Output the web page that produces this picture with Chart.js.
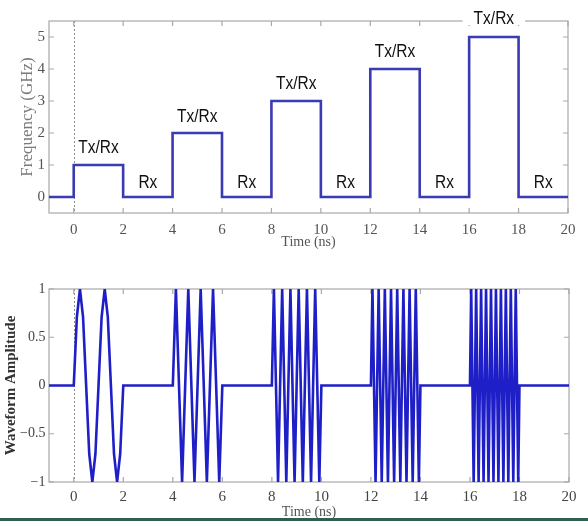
<!DOCTYPE html>
<html><head><meta charset="utf-8">
<script src="https://cdn.jsdelivr.net/npm/chart.js@4.4.1/dist/chart.umd.min.js"></script>
<style>
html,body{margin:0;padding:0;background:#fff;}
#wrap{position:relative;width:588px;height:521px;overflow:hidden;background:#fff;}
#c1{position:absolute;left:0;top:0;}
#c2{position:absolute;left:0;top:260px;}
#strip{position:absolute;left:0;top:518px;width:588px;height:3px;background:#2f5f50;}
</style></head><body>
<div id="wrap"><canvas id="c1" width="588" height="260"></canvas><canvas id="c2" width="588" height="261"></canvas><div id="strip"></div></div>
<script>
// ---- data ----
const timeTicks = [0, 2, 4, 6, 8, 10, 12, 14, 16, 18, 20];
const timeTickLabels = ['0', '2', '4', '6', '8', '10', '12', '14', '16', '18', '20'];
const freqTicks = [0, 1, 2, 3, 4, 5];
const freqTickLabels = ['0', '1', '2', '3', '4', '5'];
const ampTicks = [-1, -0.5, 0, 0.5, 1];
const ampTickLabels = ['\u22121', '\u22120.5', '0', '0.5', '1'];

const freqTimes  = [-1, 0, 0, 2, 2, 4, 4, 6, 6, 8, 8, 10, 10, 12, 12, 14, 14, 16, 16, 18, 18, 20];
const freqValues = [ 0, 0, 1, 1, 0, 0, 2, 2, 0, 0, 3, 3,  0,  0,  4,  4,  0,  0,  5,  5,  0,  0];

const modeLabels      = ['Tx/Rx', 'Rx', 'Tx/Rx', 'Rx', 'Tx/Rx', 'Rx', 'Tx/Rx', 'Rx', 'Tx/Rx', 'Rx'];
const modeLabelTimes  = [1, 3, 5, 7, 9, 11, 13, 15, 17, 19];
const modeLabelLevels = [1.52, 0.45, 2.51, 0.45, 3.53, 0.45, 4.54, 0.45, 5.57, 0.45];

const waveTimes = [-1, 0, 0.125, 0.25, 0.375, 0.5, 0.625, 0.75, 0.875, 1, 1.125, 1.25, 1.375, 1.5, 1.625, 1.75, 1.875, 2,
  4, 4.125, 4.375, 4.625, 4.875, 5.125, 5.375, 5.625, 5.875, 6,
  8, 8.083, 8.25, 8.417, 8.583, 8.75, 8.917, 9.083, 9.25, 9.417, 9.583, 9.75, 9.917, 10,
  12, 12.0625, 12.1875, 12.3125, 12.4375, 12.5625, 12.6875, 12.8125, 12.9375, 13.0625, 13.1875, 13.3125, 13.4375, 13.5625, 13.6875, 13.8125, 13.9375, 14,
  16, 16.05, 16.15, 16.25, 16.35, 16.45, 16.55, 16.65, 16.75, 16.85, 16.95, 17.05, 17.15, 17.25, 17.35, 17.45, 17.55, 17.65, 17.75, 17.85, 17.95, 18, 20];
const waveValues = [0, 0, 0.71, 1, 0.71, 0, -0.71, -1, -0.71, 0, 0.71, 1, 0.71, 0, -0.71, -1, -0.71, 0,
  0, 1, -1, 1, -1, 1, -1, 1, -1, 0,
  0, 1, -1, 1, -1, 1, -1, 1, -1, 1, -1, 1, -1, 0,
  0, 1, -1, 1, -1, 1, -1, 1, -1, 1, -1, 1, -1, 1, -1, 1, -1, 0,
  0, 1, -1, 1, -1, 1, -1, 1, -1, 1, -1, 1, -1, 1, -1, 1, -1, 1, -1, 1, -1, 0, 0];

// ---- helpers ----
const SERIF = '"Liberation Serif", "Times New Roman", serif';
const SANS = '"Liberation Sans", Arial, sans-serif';

const matlabAxes = {
  id: 'matlabAxes',
  beforeDatasetsDraw(chart) {
    const {ctx, chartArea: a, scales: {x, y}} = chart;
    const L = 5;
    ctx.save();
    const x0 = Math.round(x.getPixelForValue(0)) + 0.5;
    ctx.strokeStyle = '#8c8c8c'; ctx.lineWidth = 1; ctx.setLineDash([2, 2]);
    ctx.beginPath(); ctx.moveTo(x0, a.top); ctx.lineTo(x0, a.bottom); ctx.stroke();
    ctx.setLineDash([]);
    ctx.strokeStyle = '#a8a8a8'; ctx.lineWidth = 1.2;
    ctx.strokeRect(a.left, a.top, a.right - a.left, a.bottom - a.top);
    ctx.beginPath();
    x.ticks.forEach(t => {
      const px = x.getPixelForValue(t.value);
      ctx.moveTo(px, a.bottom); ctx.lineTo(px, a.bottom - L);
      ctx.moveTo(px, a.top); ctx.lineTo(px, a.top + L);
    });
    y.ticks.forEach(t => {
      const py = y.getPixelForValue(t.value);
      ctx.moveTo(a.left, py); ctx.lineTo(a.left + L, py);
      ctx.moveTo(a.right, py); ctx.lineTo(a.right - L, py);
    });
    ctx.stroke();
    ctx.restore();
  }
};

const modeLabelPlugin = {
  id: 'modeLabels',
  afterDatasetsDraw(chart) {
    const {ctx, chartArea: a, scales: {x, y}} = chart;
    ctx.save();
    ctx.font = '15.5px ' + SANS;
    ctx.textAlign = 'center';
    ctx.textBaseline = 'middle';
    modeLabels.forEach((txt, i) => {
      const px = x.getPixelForValue(modeLabelTimes[i]);
      const py = y.getPixelForValue(modeLabelLevels[i]);
      if (py < a.top + 6) {
        const w = ctx.measureText(txt).width;
        ctx.fillStyle = '#fff';
        ctx.fillRect(px - w / 2 - 11, a.top - 4, w + 22, 8);
      }
      ctx.fillStyle = '#111';
      ctx.save();
      ctx.translate(px, py);
      ctx.scale(1, 1.18);
      ctx.fillText(txt, 0, 0);
      ctx.restore();
    });
    ctx.restore();
  }
};

function xScale(cfg) {
  return {
    type: 'linear', min: -1, max: 20,
    grid: {display: false, drawTicks: false}, border: {display: false},
    afterBuildTicks: s => { s.ticks = timeTicks.map(v => ({value: v})); },
    afterFit: s => { s.height = cfg.height; },
    ticks: {padding: cfg.tickPad, autoSkip: false, maxRotation: 0, color: cfg.tickColor,
      font: {family: SERIF, size: 15},
      callback: v => timeTickLabels[timeTicks.indexOf(v)]},
    title: {display: true, text: 'Time (ns)', color: '#555',
      font: {family: SERIF, size: 14, lineHeight: 1}, padding: {top: 0, bottom: cfg.titlePad}}
  };
}

function yScale(cfg) {
  return {
    type: 'linear', min: cfg.min, max: cfg.max,
    grid: {display: false, drawTicks: false}, border: {display: false},
    afterBuildTicks: s => { s.ticks = cfg.ticks.map(v => ({value: v})); },
    afterFit: s => { s.width = 49; },
    ticks: {padding: cfg.tickPad, autoSkip: false, color: cfg.tickColor,
      font: {family: SERIF, size: cfg.tickSize},
      callback: v => cfg.labels[cfg.ticks.indexOf(v)]},
    title: {display: true, text: cfg.title, color: cfg.titleColor,
      font: {family: SERIF, size: cfg.titleSize, weight: cfg.titleWeight, lineHeight: 1},
      padding: {top: cfg.titlePad, bottom: 0}}
  };
}

const common = {
  responsive: false, animation: false, events: [],
  plugins: {legend: {display: false}, tooltip: {enabled: false}},
  elements: {point: {radius: 0}, line: {tension: 0}}
};

new Chart(document.getElementById('c1'), {
  type: 'line',
  data: {datasets: [{
    data: freqTimes.map((t, i) => ({x: t, y: freqValues[i]})),
    borderColor: '#3a3ab4', borderWidth: 2.6, fill: false
  }]},
  options: Object.assign({}, common, {
    layout: {padding: {left: 0, right: 20, top: 21, bottom: 0}},
    scales: {
      x: xScale({height: 47, tickPad: 8, tickColor: '#555', titlePad: 11}),
      y: yScale({min: -0.5, max: 5.5, ticks: freqTicks, labels: freqTickLabels, tickPad: 4,
        tickColor: '#555', tickSize: 15, title: 'Frequency (GHz)', titleColor: '#7a7a7a',
        titleSize: 17, titleWeight: 'normal', titlePad: 19.5})
    }
  }),
  plugins: [matlabAxes, modeLabelPlugin]
});

new Chart(document.getElementById('c2'), {
  type: 'line',
  data: {datasets: [{
    data: waveTimes.map((t, i) => ({x: t, y: waveValues[i]})),
    borderColor: '#1f1fc8', borderWidth: 2.6, fill: false
  }]},
  options: Object.assign({}, common, {
    layout: {padding: {left: 0, right: 19, top: 29, bottom: 0}},
    scales: {
      x: xScale({height: 39, tickPad: 6, tickColor: '#444', titlePad: 2}),
      y: yScale({min: -1, max: 1, ticks: ampTicks, labels: ampTickLabels, tickPad: 3.5,
        tickColor: '#444', tickSize: 14, title: 'Waveform Amplitude', titleColor: '#333',
        titleSize: 15, titleWeight: 'bold', titlePad: 3.5})
    }
  }),
  plugins: [matlabAxes]
});
</script>
</body></html>
